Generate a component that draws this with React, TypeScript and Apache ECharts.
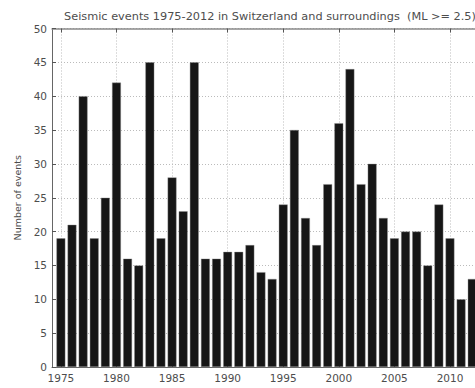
import React, { useEffect, useRef } from "react";
import * as echarts from "echarts";

const years = [
  1975, 1976, 1977, 1978, 1979, 1980, 1981, 1982, 1983, 1984,
  1985, 1986, 1987, 1988, 1989, 1990, 1991, 1992, 1993, 1994,
  1995, 1996, 1997, 1998, 1999, 2000, 2001, 2002, 2003, 2004,
  2005, 2006, 2007, 2008, 2009, 2010, 2011, 2012,
];
const counts = [
  19, 21, 40, 19, 25, 42, 16, 15, 45, 19,
  28, 23, 45, 16, 16, 17, 17, 18, 14, 13,
  24, 35, 22, 18, 27, 36, 44, 27, 30, 22,
  19, 20, 20, 15, 24, 19, 10, 13,
];
const yearTicks = [1975, 1980, 1985, 1990, 1995, 2000, 2005, 2010];
const titleText = "Seismic events 1975-2012 in Switzerland and surroundings  (ML >= 2.5)";
const yAxisTitle = "Number of events";

const FONT = "'DejaVu Sans', 'Liberation Sans', Arial, sans-serif";
const TEXT_COLOR = "#4d4d4d";

export default function App() {
  const ref = useRef<HTMLDivElement>(null);
  useEffect(() => {
    if (!ref.current) return;
    const chart = echarts.init(ref.current, undefined, { renderer: "svg" });
    const xMin = 1974.2;
    const xMax = 2012.25;
    const commonX = {
      type: "value" as const,
      min: xMin,
      max: xMax,
    };
    chart.setOption({
      animation: false,
      backgroundColor: "#ffffff",
      title: {
        text: titleText,
        left: 265,
        textAlign: "center",
        top: 6,
        textStyle: { fontFamily: FONT, fontSize: 11.3, fontWeight: "normal", color: TEXT_COLOR },
      },
      grid: { left: 52, top: 28.5, bottom: 21, right: 0, containLabel: false },
      xAxis: [
        {
          ...commonX,
          position: "bottom",
          axisLine: { show: true, onZero: false, lineStyle: { color: "#666", width: 1 } },
          axisTick: { show: true, inside: true, length: 4, customValues: yearTicks, lineStyle: { color: "#555" } },
          axisLabel: {
            show: true,
            customValues: yearTicks,
            margin: 5,
            fontFamily: FONT,
            fontSize: 10.5,
            color: TEXT_COLOR,
            formatter: (v: number) => String(Math.round(v)),
          },
          splitLine: { show: true, lineStyle: { color: "#bbbbbb", type: [1, 2], width: 1 } },
        },
        {
          ...commonX,
          position: "top",
          axisLine: { show: true, onZero: false, lineStyle: { color: "#8a8a8a", width: 1.5 } },
          axisTick: { show: true, inside: true, length: 4, customValues: yearTicks, lineStyle: { color: "#555" } },
          axisLabel: { show: false },
          splitLine: { show: false },
        },
      ],
      yAxis: {
        type: "value",
        position: "left",
        min: 0,
        max: 50,
        interval: 5,
        name: yAxisTitle,
        nameLocation: "middle",
        nameGap: 29,
        nameTextStyle: { fontFamily: FONT, fontSize: 9.5, color: TEXT_COLOR },
        axisLine: { show: true, onZero: false, lineStyle: { color: "#666", width: 1 } },
        axisTick: { show: true, inside: true, length: 4, lineStyle: { color: "#555" } },
        axisLabel: { fontFamily: FONT, fontSize: 10.5, color: TEXT_COLOR, margin: 5 },
        splitLine: { show: true, lineStyle: { color: "#bbbbbb", type: [1, 2], width: 1 } },
      },
      series: [
        {
          type: "bar",
          xAxisIndex: 0,
          data: years.map((y, i) => [y, counts[i]]),
          barWidth: 8.8,
          itemStyle: { color: "#161616", borderColor: "#8a8a8a", borderWidth: 0.4 },
        },
      ],
    });
    return () => chart.dispose();
  }, []);
  return (
    <div
      ref={ref}
      style={{ position: "fixed", left: 0, top: 0, width: 475, height: 388 }}
    />
  );
}
